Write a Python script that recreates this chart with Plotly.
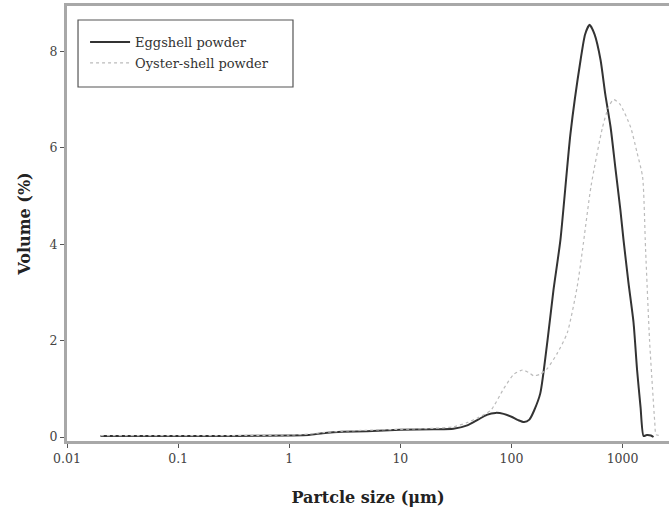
import plotly.graph_objects as go

egg_size = [0.02, 0.05, 0.1, 0.3, 1, 1.5, 2, 2.5, 3, 5, 10, 20, 30, 40, 50, 60, 72, 85, 100,
            115, 130, 145, 160, 182, 211, 239, 276, 340, 419, 460, 505, 560, 634, 700, 780,
            860, 956, 1020, 1130, 1256, 1350, 1452, 1545, 1650, 1800, 1900]
egg_vol = [0.02, 0.02, 0.02, 0.02, 0.03, 0.04, 0.08, 0.10, 0.11, 0.12, 0.15, 0.16, 0.17, 0.24,
           0.36, 0.46, 0.50, 0.48, 0.42, 0.35, 0.31, 0.36, 0.55, 0.91, 2.0, 3.05, 4.09, 6.3,
           7.82, 8.35, 8.55, 8.35, 7.82, 7.1, 6.43, 5.6, 4.71, 4.09, 3.2, 2.37, 1.4, 0.62,
           0.02, 0.04, 0.03, 0.0]

oy_size = [0.02, 0.05, 0.1, 0.3, 1, 1.5, 2, 3, 5, 10, 20, 30, 40, 50, 65, 85, 105, 126, 145,
           158, 180, 210, 259, 318, 390, 436, 520, 661, 750, 830, 950, 1180, 1350, 1514, 1611,
           1750, 1862, 1950, 2000, 2150]
oy_vol = [0.03, 0.03, 0.03, 0.03, 0.04, 0.06, 0.09, 0.12, 0.14, 0.16, 0.18, 0.21, 0.30, 0.40,
          0.55, 1.0, 1.3, 1.39, 1.33, 1.27, 1.30, 1.42, 1.74, 2.16, 3.11, 3.88, 5.2, 6.43, 6.85,
          7.0, 6.9, 6.43, 5.9, 5.4, 3.9, 2.0, 1.0, 0.3, 0.05, 0.03]

x_ticks = [0.01, 0.1, 1, 10, 100, 1000]
x_tick_labels = ["0.01", "0.1", "1", "10", "100", "1000"]
y_ticks = [0, 2, 4, 6, 8]

serif = "DejaVu Serif, serif"

fig = go.Figure()
fig.add_trace(go.Scatter(x=egg_size, y=egg_vol, mode="lines", name="Eggshell powder",
                         legend="legend",
                         line=dict(color="#333333", width=2, shape="spline", smoothing=0.6)))
fig.add_trace(go.Scatter(x=oy_size, y=oy_vol, mode="lines", name="Oyster-shell powder",
                         legend="legend2",
                         line=dict(color="#bbbbbb", width=1.2, dash="dot", shape="spline",
                                   smoothing=0.6)))

# legend frame
fig.add_shape(type="rect", xref="paper", yref="paper", x0=0.0183, x1=0.3754, y0=0.8138,
              y1=0.9678, line=dict(color="#555555", width=1.2), fillcolor="rgba(0,0,0,0)",
              layer="above")

leg_common = dict(xanchor="left", yanchor="middle", borderwidth=0, bgcolor="rgba(0,0,0,0)",
                  font=dict(family=serif, size=13, color="#333333"), itemwidth=40)

fig.update_layout(
    width=669, height=513,
    margin=dict(l=67, r=0, t=6, b=72),
    paper_bgcolor="white", plot_bgcolor="white",
    font=dict(family=serif, color="#333333"),
    showlegend=True,
    legend=dict(x=0.030, y=0.917, **leg_common),
    legend2=dict(x=0.030, y=0.869, **leg_common),
    xaxis=dict(type="log", range=[-2, 3.418], tickvals=x_ticks, ticktext=x_tick_labels,
               showgrid=False, zeroline=False, showline=True, linecolor="#a8a8a8",
               linewidth=3, mirror=True, ticks="outside", ticklen=4, tickcolor="#555555",
               tickfont=dict(family=serif, size=12.5, color="#444444"),
               title=dict(text="<b>Partcle size (μm)</b>", standoff=27,
                          font=dict(family=serif, size=16, color="#222222"))),
    yaxis=dict(range=[-0.083, 8.94], tickvals=y_ticks, showgrid=False, zeroline=False,
               showline=True, linecolor="#a8a8a8", linewidth=3, ticks="outside",
               ticklen=4, tickcolor="#555555",
               tickfont=dict(family=serif, size=12.5, color="#444444"),
               title=dict(text="<b>Volume (%)</b>", standoff=15,
                          font=dict(family=serif, size=16, color="#222222"))),
)

fig.write_html("out.html", config={"displayModeBar": False},
               post_script="document.body.style.margin='0';")
